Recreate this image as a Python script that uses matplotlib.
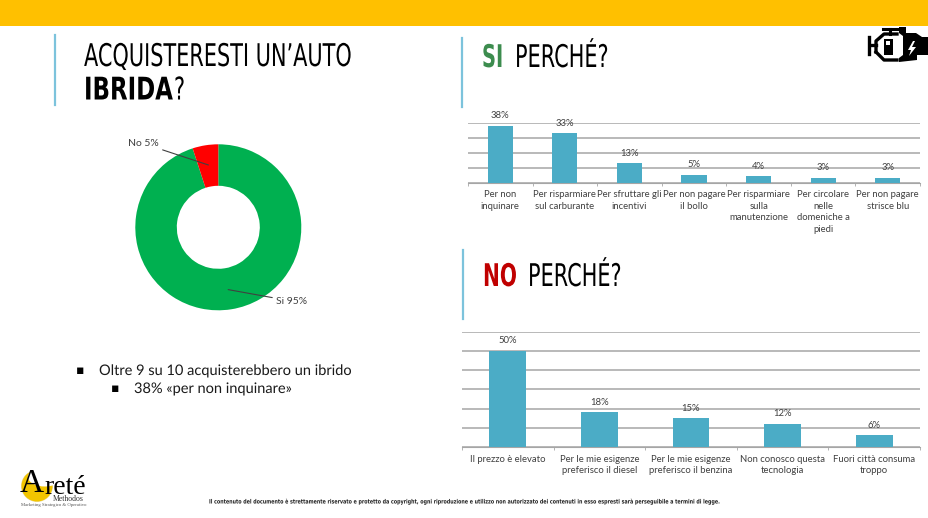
# -*- coding: utf-8 -*-
import numpy as np
import matplotlib
matplotlib.use("Agg")
import matplotlib.pyplot as plt
from matplotlib.patches import Circle, Ellipse, Polygon, Rectangle
from matplotlib.patheffects import AbstractPathEffect
from matplotlib.transforms import Affine2D

W, H = 929, 518

pie_labels = ["Si 95%", "No 5%"]
pie_values = [95, 5]
pie_colors = ["#00B050", "#FF0000"]

si_categories = ["Per non\ninquinare", "Per risparmiare\nsul carburante", "Per sfruttare gli\nincentivi",
                 "Per non pagare\nil bollo", "Per risparmiare\nsulla\nmanutenzione",
                 "Per circolare\nnelle\ndomeniche a\npiedi", "Per non pagare\nstrisce blu"]
si_values = [38, 33, 13, 5.4, 4.2, 3.4, 3.2]

no_categories = ["Il prezzo è elevato", "Per le mie esigenze\npreferisco il diesel",
                 "Per le mie esigenze\npreferisco il benzina", "Non conosco questa\ntecnologia",
                 "Fuori città consuma\ntroppo"]
no_values = [50, 18, 15, 12, 6]

BAR = "#4BACC6"
GRID = "#A6A6A6"
RULE = "#7CC3DC"
LABEL = "#404040"
NARROW = ["Liberation Sans Narrow", "DejaVu Sans"]
FOOTER = ("Il contenuto del documento è strettamente riservato e protetto da copyright, ogni riproduzione e "
          "utilizzo non autorizzato dei contenuti in esso espresti sarà perseguibile a termini di legge.")


class TallText(AbstractPathEffect):
    # no condensed display font here, so stretch the narrow one upward from its baseline
    def __init__(self, factor):
        super().__init__()
        self.factor = factor

    def draw_path(self, renderer, gc, tpath, affine, rgbFace=None):
        x, y = affine.get_matrix()[:2, 2]
        stretch = Affine2D().translate(-x, -y).scale(1, self.factor).translate(x, y)
        renderer.draw_path(gc, tpath, affine + stretch, rgbFace)


def px_axes(fig, left, top, right, bottom):
    """Add axes placed by pixel edges measured from the top left corner."""
    return fig.add_axes([left / W, 1 - bottom / H, (right - left) / W, (bottom - top) / H])


def title(ax, x, y, text, color="black", weight="normal", size=15):
    ax.text(x, y, text, family=NARROW, fontsize=size, color=color, weight=weight, va="baseline",
            path_effects=[TallText(1.5 * 15 / size)])


def bar_panel(ax, categories, values, ymax, step, width, fontsize):
    pos = np.arange(len(categories))
    bars = ax.bar(pos, values, width=width, color=BAR, zorder=3)
    ax.bar_label(bars, labels=["{:.0f}%".format(v) for v in values], padding=4, fontsize=fontsize,
                 color=LABEL, family="Lato", zorder=4)
    ax.set_xlim(-0.5, len(categories) - 0.5)
    ax.set_ylim(0, ymax)
    ax.set_yticks(np.arange(0, ymax + 1, step))
    ax.set_yticklabels([])
    ax.tick_params(axis="y", length=0)
    ax.yaxis.grid(True, color=GRID, linewidth=1.1)
    ax.set_axisbelow(True)
    ax.set_xticks(pos)
    ax.set_xticklabels(categories, fontsize=fontsize, color=LABEL, family="Lato", linespacing=1.35)
    ax.tick_params(axis="x", which="major", length=0, pad=5.5)
    ax.set_xticks(np.arange(len(categories) + 1) - 0.5, minor=True)
    ax.tick_params(axis="x", which="minor", length=2.5, color=GRID, direction="out")
    for side in ["top", "left", "right"]:
        ax.spines[side].set_visible(False)
    ax.spines["bottom"].set_color(GRID)


fig = plt.figure(figsize=(W / 100, H / 100), dpi=100, facecolor="white")

# page furniture in pixel coordinates
page = fig.add_axes([0, 0, 1, 1])
page.set_xlim(0, W)
page.set_ylim(H, 0)
page.axis("off")
page.add_patch(Rectangle((0, 0), W, 26, color="#FFC000", lw=0))
page.plot([55.5, 55.5], [35, 105], color=RULE, lw=1.6)
page.plot([462.5, 462.5], [38, 107], color=RULE, lw=1.6)
page.plot([463.5, 463.5], [250, 319], color=RULE, lw=1.6)

title(page, 84, 66, "ACQUISTERESTI UN’AUTO")
title(page, 84, 99.5, "IBRIDA", weight="bold", size=16.5)
title(page, 174, 99.5, "?")
title(page, 482, 67, "SI", color="#3C8C4E", weight="bold", size=14)
title(page, 515, 67, "PERCHÉ?")
title(page, 483, 286, "NO", color="#C00000", weight="bold", size=14.5)
title(page, 528, 286, "PERCHÉ?")

page.text(80, 370, "▪", fontsize=9, color="black", ha="center", va="center")
page.text(99, 375, "Oltre 9 su 10 acquisterebbero un ibrido", family="Lato", fontsize=10.5,
          color="#1A1A1A", va="baseline", path_effects=[TallText(1.0)])
page.text(115, 389, "▪", fontsize=9, color="black", ha="center", va="center")
page.text(134, 393, "38% «per non inquinare»", family="Lato", fontsize=10.5, color="#1A1A1A", va="baseline",
          path_effects=[TallText(1.0)])
page.text(209, 503.5, FOOTER, family=NARROW, fontsize=3.45, weight="bold", color="#222222",
          ha="left", va="baseline", path_effects=[TallText(1.25)])

# logo
page.add_patch(Circle((37, 486), 15.5, fill=False, edgecolor="#E8D9A0", lw=0.6))
page.add_patch(Circle((37, 486), 15.5, color="#F2C500", lw=0))
page.add_patch(Ellipse((45, 477), 34, 19, color="white", lw=0))
page.text(20, 492, "A", family="Liberation Serif", fontsize=24, color="black", va="baseline")
page.text(44, 494, "reté", family="Liberation Serif", fontsize=20, color="black", va="baseline")
page.text(68, 499, "Methodos", family="Liberation Serif", fontsize=5.6, color="#333333", ha="center", va="center")
page.text(54, 505, "Marketing Strategico & Operativo", family="Liberation Serif", fontsize=3.4,
          color="#555555", ha="center", va="center")

# engine icon
page.add_patch(Polygon([(899, 27), (906, 27), (906, 33), (916, 33), (922, 37), (929, 37), (929, 55), (917, 55),
                        (917, 60), (899, 62), (899, 58), (903, 55), (903, 36), (899, 33)], color="black", lw=0))
page.add_patch(Polygon([(913, 41), (908, 50), (911, 50), (909, 56), (916, 47), (912, 47), (915, 41)],
                       color="white", lw=0))
page.plot([883, 897], [28.5, 28.5], color="black", lw=2.2)
page.plot([890, 890], [29, 34], color="black", lw=2.2)
page.plot([869.5, 869.5], [37, 54], color="black", lw=2.4)
page.plot([870, 876], [45, 45], color="black", lw=2.4)
page.plot([876, 876, 884, 897], [52, 41, 34, 34], color="black", lw=2.4)
page.plot([876, 884, 897], [52, 60, 60], color="black", lw=2.4)
page.add_patch(Rectangle((884, 39), 9, 16, color="black", lw=0))
page.add_patch(Rectangle((886, 41), 4.5, 4, color="white", lw=0))

# donut
radius_px = 83
cx, cy = 218.3, 227.3
span = 1.25 * radius_px
donut = px_axes(fig, cx - span, cy - span, cx + span, cy + span)
wedges, _ = donut.pie(pie_values, colors=pie_colors, startangle=90, counterclock=False,
                      wedgeprops={"width": 0.5, "linewidth": 0})
donut.set_xlim(-1.25, 1.25)
donut.set_ylim(-1.25, 1.25)
for wedge, label, xt, yt, ha in zip(wedges, pie_labels, [0.70, -0.72], [-0.89, 1.01], ["left", "right"]):
    mid = np.radians((wedge.theta1 + wedge.theta2) / 2)
    donut.annotate(label, xy=(0.76 * np.cos(mid), 0.76 * np.sin(mid)), xytext=(xt, yt), ha=ha, va="center",
                   family="Lato", fontsize=7.5, color=LABEL,
                   arrowprops={"arrowstyle": "-", "color": "#404040", "lw": 0.8, "shrinkA": 1, "shrinkB": 0})

# bar charts
si_ax = px_axes(fig, 468, 122.7, 920, 182.7)
bar_panel(si_ax, si_categories, si_values, 40, 10, 0.39, 6.8)
no_ax = px_axes(fig, 462, 331.7, 920, 447)
bar_panel(no_ax, no_categories, no_values, 60, 10, 0.4, 6.8)

fig.savefig("out.png", dpi=100)
